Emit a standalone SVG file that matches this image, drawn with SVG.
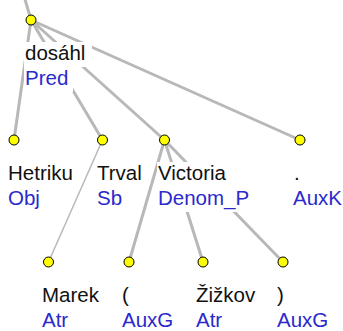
<svg xmlns="http://www.w3.org/2000/svg" width="343" height="331" viewBox="0 0 343 331">
<style>
.e{stroke:#b8b8b8;stroke-width:3;fill:none;stroke-linecap:round}
.t{stroke-width:1.5}
.n{fill:#ffff00;stroke:#000;stroke-width:1}
.bg{fill:#fff}
.w{font-family:"Liberation Sans",Arial,sans-serif;font-size:20.5px;fill:#111}
.f{font-family:"Liberation Sans",Arial,sans-serif;font-size:20.5px;fill:#2a2acc}
</style>
<rect width="343" height="331" fill="#fff"/>
<g id="connectors">
<line class="e" x1="31" y1="20" x2="24" y2="-4"/>
<line class="e" x1="31" y1="20" x2="14" y2="140"/>
<line class="e" x1="31" y1="20" x2="102.5" y2="140"/>
<line class="e" x1="31" y1="20" x2="164.5" y2="140"/>
<line class="e" x1="31" y1="20" x2="300" y2="140"/>
<line class="e t" x1="102.5" y1="140" x2="48.5" y2="262"/>
<line class="e" x1="164.5" y1="140" x2="129" y2="262"/>
<line class="e" x1="164.5" y1="140" x2="203" y2="262"/>
<line class="e" x1="164.5" y1="140" x2="283" y2="262"/>
</g>
<g id="n-dosahl">
<rect class="bg" x="24" y="42" width="68" height="25"/>
<rect class="bg" x="24" y="67" width="49" height="25"/>
<text class="w" x="25" y="60">dosáhl</text>
<text class="f" x="25" y="85">Pred</text>
<circle class="n" cx="31" cy="20" r="5"/>
</g>
<g id="n-hetriku">
<rect class="bg" x="7" y="162" width="71" height="25"/>
<rect class="bg" x="7" y="187" width="38" height="25"/>
<text class="w" x="8" y="180">Hetriku</text>
<text class="f" x="8" y="205">Obj</text>
<circle class="n" cx="14" cy="140" r="5"/>
</g>
<g id="n-trval">
<rect class="bg" x="96" y="162" width="50" height="25"/>
<rect class="bg" x="96" y="187" width="30" height="25"/>
<text class="w" x="97" y="180">Trval</text>
<text class="f" x="97" y="205">Sb</text>
<circle class="n" cx="102.5" cy="140" r="5"/>
</g>
<g id="n-victoria">
<rect class="bg" x="157" y="162" width="73" height="25"/>
<rect class="bg" x="157" y="187" width="95" height="25"/>
<text class="w" x="158" y="180">Victoria</text>
<text class="f" x="158" y="205">Denom_P</text>
<circle class="n" cx="164.5" cy="140" r="5"/>
</g>
<g id="n-dot">
<rect class="bg" x="292" y="162" width="12" height="25"/>
<rect class="bg" x="292" y="187" width="51" height="25"/>
<text class="w" x="294" y="180">.</text>
<text class="f" x="293" y="205">AuxK</text>
<circle class="n" cx="300" cy="140" r="5"/>
</g>
<g id="n-marek">
<rect class="bg" x="41" y="284" width="61" height="25"/>
<rect class="bg" x="41" y="309" width="31" height="22"/>
<text class="w" x="42" y="302">Marek</text>
<text class="f" x="42" y="327">Atr</text>
<circle class="n" cx="48.5" cy="262" r="5"/>
</g>
<g id="n-lparen">
<rect class="bg" x="121" y="284" width="12" height="25"/>
<rect class="bg" x="121" y="309" width="56" height="22"/>
<text class="w" x="122" y="302">(</text>
<text class="f" x="122" y="327">AuxG</text>
<circle class="n" cx="129" cy="262" r="5"/>
</g>
<g id="n-zizkov">
<rect class="bg" x="195" y="284" width="64" height="25"/>
<rect class="bg" x="195" y="309" width="31" height="22"/>
<text class="w" x="196" y="302">Žižkov</text>
<text class="f" x="196" y="327">Atr</text>
<circle class="n" cx="203" cy="262" r="5"/>
</g>
<g id="n-rparen">
<rect class="bg" x="276" y="284" width="12" height="25"/>
<rect class="bg" x="276" y="309" width="56" height="22"/>
<text class="w" x="277" y="302">)</text>
<text class="f" x="277" y="327">AuxG</text>
<circle class="n" cx="283" cy="262" r="5"/>
</g>
</svg>
